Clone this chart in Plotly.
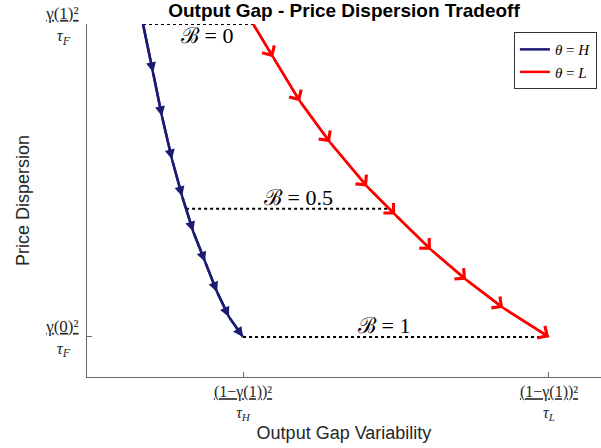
import plotly.graph_objects as go

# data (x in units where tau_H tick = 1, tau_L tick = 2; y: gamma(0)^2/tau_F = 0, gamma(1)^2/tau_F = 1)
blue_x = [0.673, 0.706, 0.735, 0.768, 0.801, 0.837, 0.876, 0.915, 0.954, 1.0]
blue_y = [1.0, 0.846, 0.705, 0.567, 0.449, 0.337, 0.240, 0.144, 0.064, 0.0]
red_x = [1.033, 1.098, 1.186, 1.284, 1.405, 1.497, 1.614, 1.729, 1.850, 2.0]
red_y = [1.0, 0.894, 0.753, 0.622, 0.481, 0.391, 0.279, 0.183, 0.093, 0.0]

# dotted iso-B lines: (x_start, x_end, y)
b_lines = [(0.673, 1.033, 1.0), (0.814, 1.478, 0.41), (1.0, 2.0, 0.0)]
b_labels = ["0", "0.5", "1"]
b_label_x = [0.882, 1.18, 1.46]

xtick_vals = [1.0, 2.0]
ytick_vals = [0.0, 1.0]

# numerator underlined -> fraction bar
UL = '<span style="text-decoration:underline">{}</span>'
NB = "\u00a0"
xtick_text = [
    UL.format("(1−γ(1))²") + "<br><i>τ<sub>H</sub></i>",
    UL.format("(1−γ(1))²") + "<br><i>τ<sub>L</sub></i>",
]
ytick_text = [
    UL.format("γ(0)²") + "<br><i>τ<sub>F</sub></i>" + NB * 2,
    UL.format("γ(1)²") + "<br><i>τ<sub>F</sub></i>" + NB * 2,
]

BLUE = "#1b1b72"
RED = "#ff0000"
AXC = "#262626"
MATH = "Liberation Serif, DejaVu Serif, serif"
SANS = "Liberation Sans, Arial, sans-serif"

fig = go.Figure()

for x0, x1, y in b_lines:
    fig.add_trace(go.Scatter(x=[x0, x1], y=[y, y], mode="lines",
                             line=dict(color="black", width=2, dash="dot"),
                             showlegend=False, hoverinfo="skip"))

fig.add_trace(go.Scatter(x=blue_x, y=blue_y, mode="lines", name="<i>θ</i> = <i>H</i>",
                         line=dict(color=BLUE, width=2.5)))
fig.add_trace(go.Scatter(x=red_x, y=red_y, mode="lines", name="<i>θ</i> = <i>L</i>",
                         line=dict(color=RED, width=2.5)))

# arrowheads along each path
for xs, ys, col, head, size in [(blue_x, blue_y, BLUE, 2, 0.8), (red_x, red_y, RED, 4, 1.1)]:
    for i in range(1, len(xs)):
        fig.add_annotation(x=xs[i], y=ys[i], ax=xs[i - 1], ay=ys[i - 1],
                           xref="x", yref="y", axref="x", ayref="y",
                           text="", showarrow=True, arrowhead=head, arrowsize=size,
                           arrowwidth=2.5, arrowcolor=col, standoff=0)

# B labels
for (x0, x1, y), lab, lx in zip(b_lines, b_labels, b_label_x):
    fig.add_annotation(x=lx, y=y, xref="x", yref="y", showarrow=False,
                       text="ℬ = " + lab, font=dict(family=MATH, size=22, color="black"),
                       yanchor="top" if y >= 1.0 else "bottom", yshift=3 if y >= 1.0 else -3)

fig.update_layout(
    width=601, height=448,
    margin=dict(l=87, r=0, t=24, b=71),
    paper_bgcolor="white", plot_bgcolor="white",
    title=dict(text="<b>Output Gap - Price Dispersion Tradeoff</b>", x=0.5, xref="paper",
               xanchor="center", y=0.977, yanchor="middle",
               font=dict(family=SANS, size=19, color="black")),
    showlegend=True,
    legend=dict(x=0.992, y=0.977, xanchor="right", yanchor="top",
                bgcolor="white", bordercolor="#333", borderwidth=1,
                font=dict(family=MATH, size=15, color="black"),
                itemwidth=30, tracegroupgap=0),
)
fig.update_xaxes(range=[0.49, 2.17], showgrid=False, zeroline=False, showline=True,
                 linecolor="#666", linewidth=1, ticks="inside", ticklen=5, tickcolor="#666",
                 tickvals=xtick_vals, ticktext=xtick_text, ticklabelstandoff=0,
                 tickfont=dict(family=MATH, size=16, color=AXC),
                 title=dict(text="Output Gap Variability", standoff=2,
                            font=dict(family=SANS, size=18, color=AXC)))
fig.update_yaxes(range=[-0.128, 1.0], showgrid=False, zeroline=False, showline=True,
                 linecolor="#666", linewidth=1, ticks="inside", ticklen=5, tickcolor="#666",
                 tickvals=ytick_vals, ticktext=ytick_text, ticklabelstandoff=4,
                 tickfont=dict(family=MATH, size=17, color=AXC),
                 title=dict(text="Price Dispersion", standoff=10,
                            font=dict(family=SANS, size=18, color=AXC)))

fig.write_html("out.html", config={"displayModeBar": False},
               post_script="document.body.style.margin='0px';")
